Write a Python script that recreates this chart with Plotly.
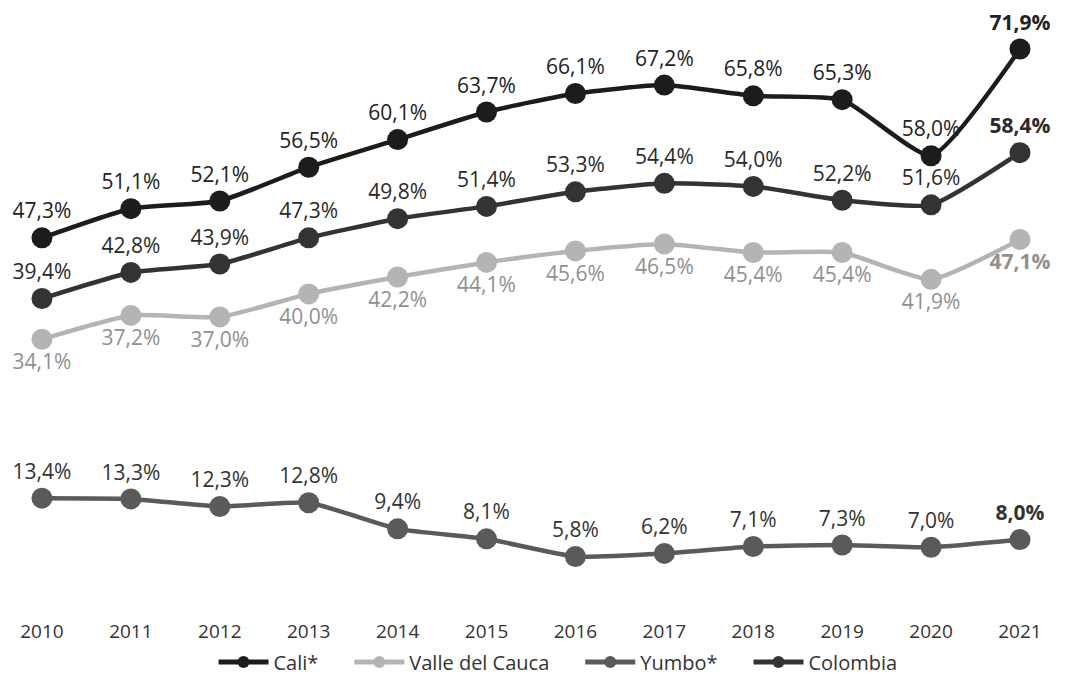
import plotly.graph_objects as go

years = list(range(2010, 2022))
cali = [47.3, 51.1, 52.1, 56.5, 60.1, 63.7, 66.1, 67.2, 65.8, 65.3, 58.0, 71.9]
colombia = [39.4, 42.8, 43.9, 47.3, 49.8, 51.4, 53.3, 54.4, 54.0, 52.2, 51.6, 58.4]
valle = [34.1, 37.2, 37.0, 40.0, 42.2, 44.1, 45.6, 46.5, 45.4, 45.4, 41.9, 47.1]
yumbo = [13.4, 13.3, 12.3, 12.8, 9.4, 8.1, 5.8, 6.2, 7.1, 7.3, 7.0, 8.0]
names = ["Cali*", "Valle del Cauca", "Yumbo*", "Colombia"]

def fmt(vals):
    out = [f"{v:.1f}%".replace('.', ',') for v in vals]
    out[-1] = "<b>" + out[-1] + "</b>"
    return out

FONT = "Open Sans"
PAD = "\u00a0" * 5

series = [
    (names[0], cali, "#1c1c1c", "#222222", "top center"),
    (names[1], valle, "#b4b4b4", "#909090", "bottom center"),
    (names[2], yumbo, "#5a5a5a", "#333333", "top center"),
    (names[3], colombia, "#333333", "#2a2a2a", "top center"),
]

fig = go.Figure()
for i, (name, vals, col, tcol, pos) in enumerate(series):
    fig.add_trace(go.Scatter(
        x=years, y=vals, name=name + (PAD if i < 3 else ""),
        mode="lines+markers+text",
        line=dict(color=col, width=4.5, shape="spline", smoothing=0.5),
        marker=dict(color=col, size=21),
        text=fmt(vals), textposition=pos,
        textfont=dict(family=FONT, size=21, color=tcol),
        cliponaxis=False,
    ))

fig.update_layout(
    width=1068, height=678,
    margin=dict(l=0, r=0, t=0, b=68),
    plot_bgcolor="white", paper_bgcolor="white",
    showlegend=True,
    legend=dict(orientation="h", x=0.515, xanchor="center", y=-0.04, yanchor="top",
                font=dict(family=FONT, size=20, color="#333333"),
                traceorder="normal", itemsizing="constant", itemwidth=50),
    xaxis=dict(range=[2009.618, 2021.63], tickmode="array", tickvals=years,
               ticktext=[str(y) for y in years], showgrid=False, zeroline=False,
               showline=False, ticks="",
               tickfont=dict(family=FONT, size=19, color="#333333")),
    yaxis=dict(range=[-2.21, 77.24], visible=False, showgrid=False, zeroline=False),
)

fig.write_html("out.html")
